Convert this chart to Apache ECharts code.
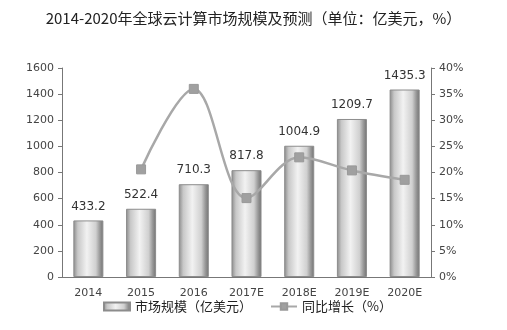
<!DOCTYPE html>
<html><head><meta charset="utf-8">
<script src="https://cdn.jsdelivr.net/npm/echarts@6/dist/echarts.min.js"></script>
<style>html,body{margin:0;padding:0;background:#fff}#c{width:507px;height:330px}</style>
</head><body><div id="c"></div>
<script>
var categories = ['2014','2015','2016','2017E','2018E','2019E','2020E'];
var marketSize = [433.2, 522.4, 710.3, 817.8, 1004.9, 1209.7, 1435.3];
var growth = [null, 20.6, 36.0, 15.1, 22.9, 20.4, 18.6];
var title = '2014-2020年全球云计算市场规模及预测（单位：亿美元，%）';
var barName = '市场规模（亿美元）';
var lineName = '同比增长（%）';

var chart = echarts.init(document.getElementById('c'), null, {renderer:'canvas'});
var barGrad = new echarts.graphic.LinearGradient(0,0,1,0,[
  {offset:0, color:'#8a8a8a'},
  {offset:0.15, color:'#c8c8c8'},
  {offset:0.45, color:'#f2f2f2'},
  {offset:0.75, color:'#d0d0d0'},
  {offset:0.88, color:'#9a9a9a'},
  {offset:1, color:'#707070'}
]);
var font = 'DejaVu Sans';
chart.setOption({
  animation:false,
  backgroundColor:'#fff',
  title:{text:title,left:'center',top:6,textStyle:{fontFamily:'Noto Sans CJK SC',fontSize:15,fontWeight:'normal',color:'#222'}},
  grid:{left:62,right:76,top:68,bottom:53},
  legend:{bottom:12,left:98,itemGap:18,itemWidth:26,itemHeight:8,
    textStyle:{fontFamily:'Noto Sans CJK SC',fontSize:13,color:'#222'},
    data:[{name:barName,icon:'rect'},{name:lineName}]},
  xAxis:{type:'category',data:categories,
    axisLine:{lineStyle:{color:'#777'}},axisTick:{show:false},
    axisLabel:{fontFamily:font,fontSize:11,color:'#444',margin:11}},
  yAxis:[
    {type:'value',min:0,max:1600,interval:200,splitLine:{show:false},
     axisLine:{show:true,lineStyle:{color:'#777'}},axisTick:{show:true,length:4,lineStyle:{color:'#777'}},
     axisLabel:{fontFamily:font,fontSize:11,color:'#444',margin:8,formatter:function(v){return String(v);}}},
    {type:'value',min:0,max:40,interval:5,splitLine:{show:false},
     axisLine:{show:true,lineStyle:{color:'#777'}},axisTick:{show:true,length:4,lineStyle:{color:'#777'}},
     axisLabel:{fontFamily:font,fontSize:11,color:'#444',margin:8,formatter:'{value}%'}}
  ],
  series:[
    {name:barName,type:'bar',data:marketSize,barWidth:'57%',
     itemStyle:{color:barGrad,borderColor:'#8c8c8c',borderWidth:1},
     label:{show:true,position:'top',distance:8,fontFamily:font,fontSize:12,color:'#333'}},
    {name:lineName,type:'line',yAxisIndex:1,data:growth,smooth:0.35,
     symbol:'rect',symbolSize:9,
     lineStyle:{color:'#a8a8a8',width:2.5},
     itemStyle:{color:'#a0a0a0',borderColor:'#999',borderWidth:1}}
  ]
});
</script></body></html>
